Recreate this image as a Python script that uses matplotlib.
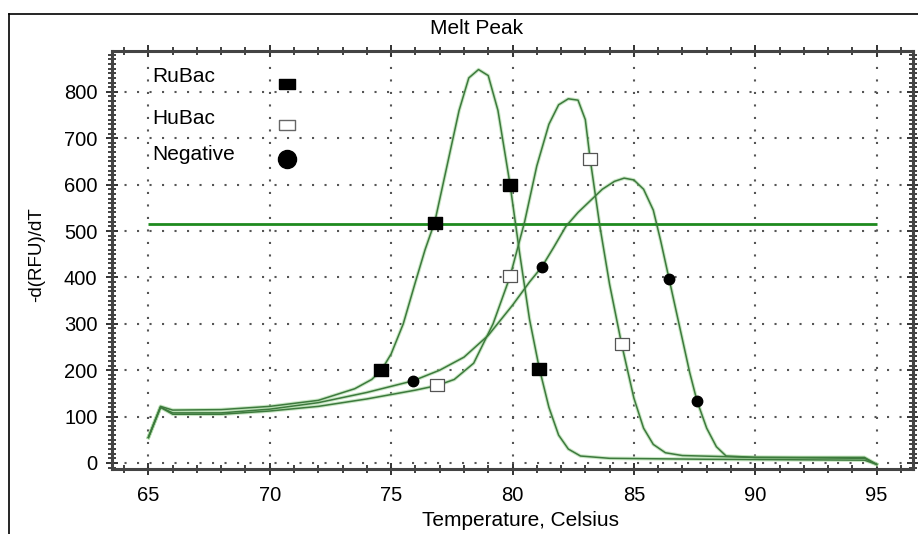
import matplotlib
matplotlib.use("Agg")
import matplotlib.pyplot as plt
from matplotlib.ticker import MultipleLocator
from matplotlib.lines import Line2D

plt.rcParams['font.family'] = ['Liberation Sans', 'DejaVu Sans']

# ---- data ----
title = "Melt Peak"
xlabel = "Temperature, Celsius"
ylabel = "-d(RFU)/dT"
threshold = 515
xticks = [65, 70, 75, 80, 85, 90, 95]
yticks = [0, 100, 200, 300, 400, 500, 600, 700, 800]

ru_t = [65, 65.5, 66, 68, 70, 72, 73.5, 74.2, 74.6, 75.0, 75.5, 76.0, 76.4, 76.8, 77.3, 77.8,
        78.2, 78.6, 79.0, 79.4, 79.9, 80.3, 80.7, 81.1, 81.5, 81.9, 82.3, 82.8, 84, 88, 94.5, 95]
ru_v = [55, 122, 114, 115, 122, 135, 160, 180, 200, 235, 300, 390, 460, 520, 640, 760,
        830, 848, 835, 760, 600, 450, 310, 205, 120, 60, 30, 15, 10, 8, 6, -3]
ru_mt = [74.6, 76.8, 79.9, 81.1]
ru_mv = [200, 518, 600, 203]

hu_t = [65, 65.5, 66, 68, 70, 72, 74, 76, 76.9, 77.6, 78.4, 79.2, 79.9, 80.5, 81.0, 81.5,
        81.9, 82.3, 82.7, 83.0, 83.2, 83.6, 84.0, 84.5, 85.0, 85.4, 85.8, 86.3, 87, 90, 94.5, 95]
hu_v = [55, 120, 105, 105, 112, 122, 138, 157, 167, 180, 215, 300, 402, 520, 640, 730,
        772, 785, 782, 740, 655, 510, 385, 255, 140, 75, 40, 22, 16, 12, 10, -3]
hu_mt = [76.9, 79.9, 83.2, 84.5]
hu_mv = [167, 402, 655, 256]

ng_t = [65, 65.5, 66, 68, 70, 72, 74, 75.9, 77, 78, 79, 80, 80.7, 81.2, 81.7, 82.2, 82.7,
        83.2, 83.7, 84.2, 84.6, 85.0, 85.4, 85.8, 86.1, 86.45, 86.9, 87.3, 87.6, 88.0, 88.4,
        88.8, 90, 94.5, 95]
ng_v = [55, 120, 108, 108, 116, 130, 152, 177, 200, 228, 275, 340, 390, 422, 465, 510, 540,
        565, 590, 607, 614, 610, 590, 545, 480, 397, 290, 195, 134, 75, 35, 15, 12, 12, -3]
ng_mt = [75.9, 81.2, 86.45, 87.6]
ng_mv = [177, 422, 397, 134]

legend_labels = ["RuBac", "HuBac", "Negative"]

# ---- figure ----
fig = plt.figure(figsize=(9.18, 5.34), dpi=100)
ax = fig.add_axes([112/918, 1-469/534, (913-112)/918, (469-51)/534])

curve_col = '#3d7a3d'
for t, v in [(ru_t, ru_v), (hu_t, hu_v), (ng_t, ng_v)]:
    ax.plot(t, v, color='#a8d8a0', lw=2.6, alpha=0.6, zorder=2, solid_joinstyle='round')
    ax.plot(t, v, color=curve_col, lw=1.1, zorder=3, solid_joinstyle='round')

ax.hlines(threshold, 65, 95, color='#1e8a1e', lw=2.0, zorder=2.5)

rect = [(-1.15, -1), (1.15, -1), (1.15, 1), (-1.15, 1), (-1.15, -1)]
ax.plot(ru_mt, ru_mv, marker=rect, color='black', ms=10, zorder=5, lw=0)
ax.plot(hu_mt, hu_mv, marker=rect, mfc='white', mec='#555555', mew=0.9, ms=10, zorder=5, lw=0)
ax.plot(ng_mt, ng_mv, 'o', color='black', ms=7.5, zorder=5, lw=0)

ax.set_xlim(63.5, 96.5)
ax.set_ylim(-13, 888)
ax.xaxis.set_minor_locator(MultipleLocator(1))
ax.yaxis.set_minor_locator(MultipleLocator(10))
ax.set_xticks(xticks)
ax.set_xticklabels([str(v) for v in xticks], fontsize=14.5)
ax.set_yticks(yticks)
ax.set_yticklabels([str(v) for v in yticks], fontsize=14.5)

ax.grid(True, which='major', color='#555555', linestyle=(0, (1, 5)), lw=1.5, zorder=1)
ax.tick_params(axis='both', which='major', color='#333333',
               direction='inout', length=9, width=1.4, top=True, right=True)
ax.tick_params(axis='both', which='minor', color='#333333',
               direction='inout', length=6, width=1.3, top=True, right=True)
ax.tick_params(axis='x', which='major', pad=8)
ax.tick_params(axis='y', which='major', pad=6)
ax.tick_params(axis='x', which='both', top=True, labeltop=False)
ax.tick_params(axis='y', which='both', right=True, labelright=False)
for s in ax.spines.values():
    s.set_color('#444444')
    s.set_linewidth(2.2)

# legend texts and markers
ly = [832, 743, 664]
for lab, y in zip(legend_labels, ly):
    ax.text(65.17, y, lab, fontsize=15, va='center', ha='left', zorder=6,
            bbox=dict(facecolor='white', edgecolor='none', pad=2))
lrect = [(-1.45, -1), (1.45, -1), (1.45, 1), (-1.45, 1), (-1.45, -1)]
ax.plot([70.7], [817], marker=lrect, color='black', ms=11, zorder=6, lw=0)
ax.plot([70.7], [728], marker=lrect, mfc='white', mec='#666666', mew=1, ms=11, zorder=6, lw=0)
ax.plot([70.7], [655], 'o', color='black', ms=13, zorder=6, lw=0)

fig.text(477/918, 1-28/534, title, ha='center', va='center', fontsize=15)
fig.text(521/918, 1-520/534, xlabel, ha='center', va='center', fontsize=15)
fig.text(37/918, 1-255/534, ylabel, ha='center', va='center', fontsize=13.5, rotation=90)

# outer frame (top and left edges)
fig.add_artist(Line2D([9/918, 1], [1-14/534, 1-14/534], color='black', lw=1.2,
                      transform=fig.transFigure))
fig.add_artist(Line2D([9/918, 9/918], [0, 1-14/534], color='black', lw=1.2,
                      transform=fig.transFigure))

fig.savefig("out.png", dpi=100)
